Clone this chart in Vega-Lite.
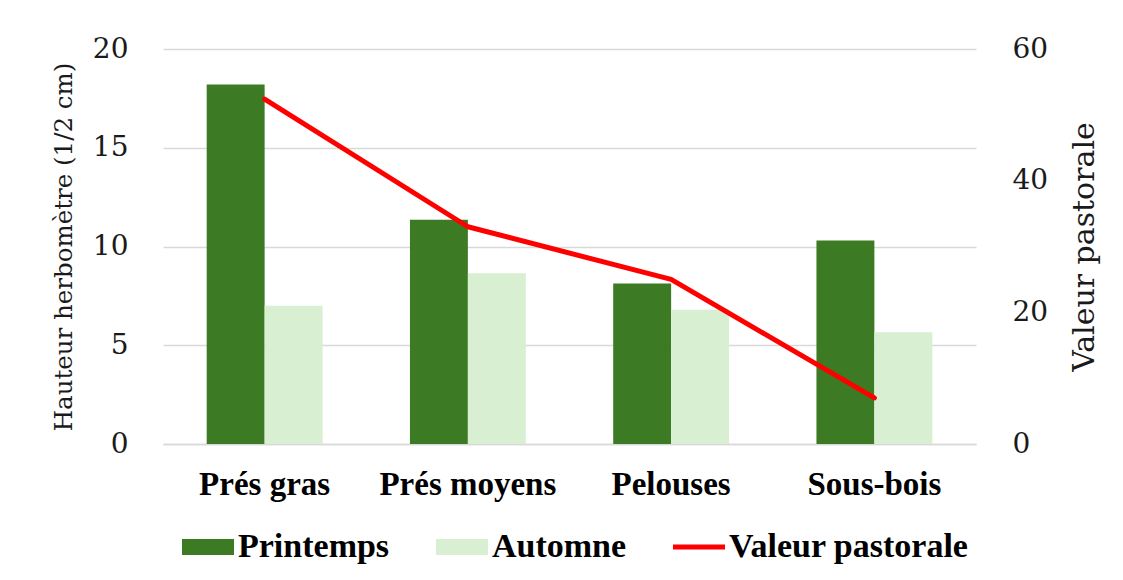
{
  "$schema": "https://vega.github.io/schema/vega-lite/v6.json",
  "autosize": {"type": "none"},
  "padding": {"left": 163, "top": 49, "right": 147, "bottom": 136},
  "width": 813,
  "height": 395,
  "background": "white",
  "config": {
    "view": {"stroke": null},
    "font": "Liberation Serif",
    "axis": {"labelFont": "DejaVu Serif", "titleFont": "DejaVu Serif", "labelColor": "#1a1a1a", "titleColor": "#1a1a1a", "titleFontWeight": "normal"},
    "legend": {"labelFont": "Liberation Serif"}
  },
  "layer": [
    {
      "data": {"values": [
        {"milieu": "Prés gras", "saison": "Printemps", "hauteur": 18.2},
        {"milieu": "Prés gras", "saison": "Automne", "hauteur": 7.0},
        {"milieu": "Prés moyens", "saison": "Printemps", "hauteur": 11.35},
        {"milieu": "Prés moyens", "saison": "Automne", "hauteur": 8.65},
        {"milieu": "Pelouses", "saison": "Printemps", "hauteur": 8.13},
        {"milieu": "Pelouses", "saison": "Automne", "hauteur": 6.8},
        {"milieu": "Sous-bois", "saison": "Printemps", "hauteur": 10.3},
        {"milieu": "Sous-bois", "saison": "Automne", "hauteur": 5.66}
      ]},
      "mark": {"type": "bar"},
      "encoding": {
        "x": {
          "field": "milieu", "type": "nominal",
          "sort": ["Prés gras", "Prés moyens", "Pelouses", "Sous-bois"],
          "scale": {"paddingInner": 0.43, "paddingOuter": 0.215},
          "axis": {"title": null, "labelAngle": 0, "labelFont": "Liberation Serif", "labelFontSize": 33, "labelFontWeight": "bold", "labelColor": "#000000", "ticks": false, "labelPadding": 24, "domainColor": "#d9d9d9", "domainWidth": 1.5, "grid": false}
        },
        "xOffset": {"field": "saison", "type": "nominal", "sort": ["Printemps", "Automne"], "scale": {"paddingInner": 0, "paddingOuter": 0}},
        "y": {
          "field": "hauteur", "type": "quantitative",
          "scale": {"domain": [0, 20], "nice": false},
          "axis": {"title": "Hauteur herbomètre (1/2 cm)", "titleFontSize": 24.5, "titlePadding": 16, "values": [0, 5, 10, 15, 20], "labelFontSize": 28, "labelPadding": 35, "ticks": false, "domain": false, "grid": true, "gridColor": "#d9d9d9", "gridWidth": 1.5}
        },
        "color": {
          "field": "saison", "type": "nominal",
          "scale": {"domain": ["Printemps", "Automne", "Valeur pastorale"], "range": ["#3c7b23", "#d8efd1", "#ff0000"]},
          "legend": {
            "title": null, "orient": "none", "direction": "horizontal", "legendX": 19, "legendY": 472,
            "padding": 0, "labelFontSize": 34, "labelFontWeight": "bold", "labelColor": "#000000", "labelLimit": 500,
            "labelOffset": 4, "columnPadding": 46, "symbolSize": 2704,
            "symbolType": "M-1,-0.31H1V0.31H-1Z",
            "encode": {
              "symbols": {"update": {
                "shape": {"signal": "datum.value === 'Valeur pastorale' ? 'M-1,-0.1H1V0.1H-1Z' : 'M-1,-0.31H1V0.31H-1Z'"},
                "fill": {"signal": "scale('color', datum.value)"},
                "fillOpacity": {"value": 1},
                "strokeWidth": {"value": 0}
              }}
            }
          }
        }
      }
    },
    {
      "data": {"values": [
        {"milieu": "Prés gras", "valeur": 52.4},
        {"milieu": "Prés moyens", "valeur": 33.0},
        {"milieu": "Pelouses", "valeur": 25.0},
        {"milieu": "Sous-bois", "valeur": 7.0}
      ]},
      "mark": {"type": "line", "strokeWidth": 5, "strokeCap": "round", "strokeJoin": "round"},
      "encoding": {
        "x": {"field": "milieu", "type": "nominal", "sort": ["Prés gras", "Prés moyens", "Pelouses", "Sous-bois"]},
        "y": {
          "field": "valeur", "type": "quantitative",
          "scale": {"domain": [0, 60], "nice": false},
          "axis": {"orient": "right", "title": "Valeur pastorale", "titleAngle": 270, "titleFontSize": 30, "titlePadding": 52, "values": [0, 20, 40, 60], "labelFontSize": 28, "labelPadding": 36, "ticks": false, "domain": false, "grid": false}
        },
        "color": {"datum": "Valeur pastorale", "type": "nominal"}
      }
    }
  ],
  "resolve": {"scale": {"y": "independent"}}
}
